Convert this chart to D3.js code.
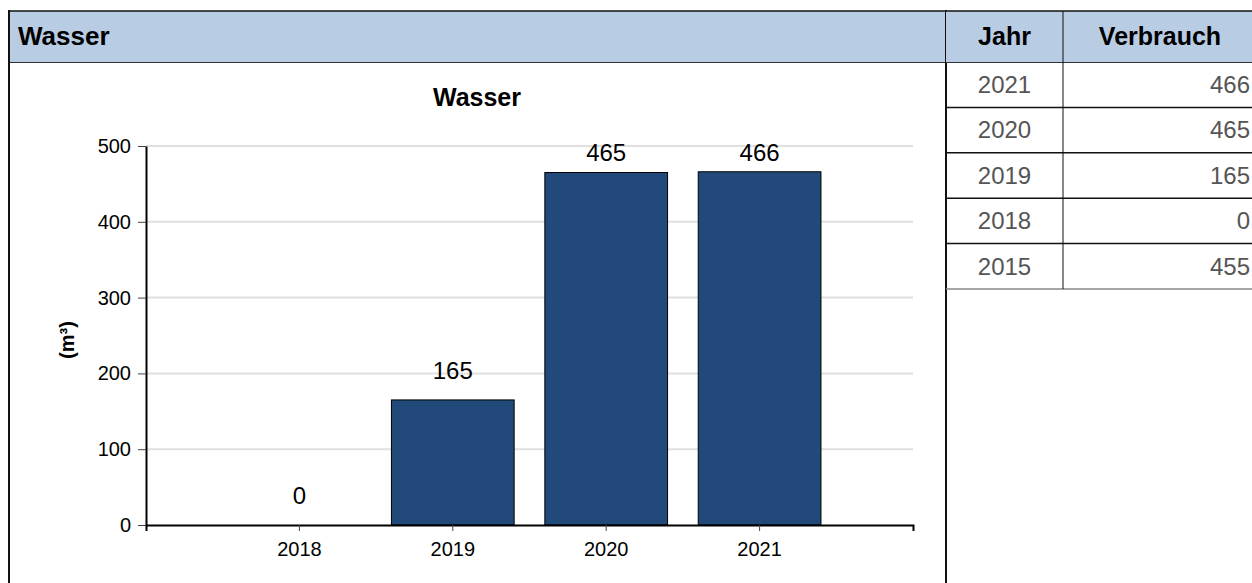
<!DOCTYPE html>
<html>
<head>
<meta charset="utf-8">
<script src="https://cdn.jsdelivr.net/npm/d3@7"></script>
<style>
  body { margin: 0; background: #fff; }
  svg { display: block; font-family: 'Liberation Sans', Arial, sans-serif; }
</style>
</head>
<body>
<div id="chart"></div>
<script>
// chart data
var years = ['2018', '2019', '2020', '2021']
var values = [0, 165, 465, 466]
var yTicks = [0, 100, 200, 300, 400, 500]

// table data
var tableYears = ['2021', '2020', '2019', '2018', '2015']
var tableValues = [466, 465, 165, 0, 455]

var W = 1252
var H = 583
var headerFill = '#b8cce4'

var svg = d3
  .select('#chart')
  .append('svg')
  .attr('width', W)
  .attr('height', H)

// left panel: header band + border
svg.append('rect')
  .attr('x', 9).attr('y', 11).attr('width', 937).attr('height', 51)
  .attr('fill', headerFill)
svg.append('line')
  .attr('x1', 9).attr('x2', 946).attr('y1', 62.5).attr('y2', 62.5)
  .attr('stroke', '#333').attr('stroke-width', 1)
svg.append('line')
  .attr('x1', 8).attr('x2', 946).attr('y1', 11).attr('y2', 11)
  .attr('stroke', '#111').attr('stroke-width', 1.5)
svg.append('line')
  .attr('x1', 9).attr('x2', 9).attr('y1', 10).attr('y2', H)
  .attr('stroke', '#111').attr('stroke-width', 2)
svg.append('line')
  .attr('x1', 946).attr('x2', 946).attr('y1', 10).attr('y2', H)
  .attr('stroke', '#111').attr('stroke-width', 2)

svg.append('text')
  .attr('x', 18).attr('y', 45)
  .attr('font-size', 26).attr('font-weight', 'bold')
  .text('Wasser')

// chart
var plot = { left: 146, right: 913, top: 146, bottom: 525 }

var xScale = d3.scaleBand()
  .domain(years)
  .range([plot.left, plot.right])
  .paddingInner(0.2)
  .paddingOuter(0.6)

var yScale = d3.scaleLinear()
  .domain([0, 500])
  .range([plot.bottom, plot.top])

svg.append('text')
  .attr('x', 477).attr('y', 106)
  .attr('text-anchor', 'middle')
  .attr('font-size', 25).attr('font-weight', 'bold')
  .text('Wasser')

svg.append('text')
  .attr('transform', 'translate(74,340) rotate(-90)')
  .attr('text-anchor', 'middle')
  .attr('font-size', 20).attr('font-weight', 'bold')
  .text('(m³)')

// grid lines
svg.append('g')
  .selectAll('line')
  .data(yTicks.filter(d => d > 0))
  .enter()
  .append('line')
  .attr('x1', plot.left)
  .attr('x2', plot.right)
  .attr('y1', d => yScale(d))
  .attr('y2', d => yScale(d))
  .attr('stroke', '#e0e0e0')
  .attr('stroke-width', 2)

// bars
svg.append('g')
  .selectAll('rect')
  .data(values)
  .enter()
  .append('rect')
  .attr('x', (d, i) => xScale(years[i]))
  .attr('width', xScale.bandwidth())
  .attr('y', d => yScale(d))
  .attr('height', d => yScale(0) - yScale(d))
  .attr('fill', '#214a7b')
  .attr('stroke', '#000')
  .attr('stroke-width', 1)

// value labels (kept inside plot area)
svg.append('g')
  .selectAll('text')
  .data(values)
  .enter()
  .append('text')
  .attr('x', (d, i) => xScale(years[i]) + xScale.bandwidth() / 2)
  .attr('y', d => Math.max(yScale(d) - 21, plot.top + 15))
  .attr('text-anchor', 'middle')
  .attr('font-size', 24)
  .attr('fill', '#000')
  .text(d => d)

// axes
var yAxis = d3.axisLeft(yScale).tickValues(yTicks).tickSize(8).tickSizeOuter(0).tickPadding(7)
var yG = svg.append('g')
  .attr('transform', 'translate(' + plot.left + ',0)')
  .call(yAxis)
yG.selectAll('text').attr('font-size', 20).attr('fill', '#000').attr('font-family', 'Liberation Sans, Arial, sans-serif')
yG.selectAll('.tick line').attr('stroke', '#444')
yG.select('.domain').attr('stroke', '#000').attr('stroke-width', 2)

var xAxis = d3.axisBottom(xScale).tickSize(6).tickSizeOuter(6).tickPadding(11)
var xG = svg.append('g')
  .attr('transform', 'translate(0,' + plot.bottom + ')')
  .call(xAxis)
xG.selectAll('text').attr('font-size', 20).attr('fill', '#000').attr('font-family', 'Liberation Sans, Arial, sans-serif')
xG.selectAll('.tick line').attr('stroke', '#444')
xG.select('.domain').attr('stroke', '#000').attr('stroke-width', 2)

// table on the right
var col1 = 946
var col2 = 1063
var rowH = 45.4
var headTop = 11
var headBottom = 62

svg.append('rect')
  .attr('x', col1).attr('y', headTop).attr('width', W - col1).attr('height', headBottom - headTop)
  .attr('fill', headerFill)
svg.append('line')
  .attr('x1', col1).attr('x2', W).attr('y1', 11).attr('y2', 11)
  .attr('stroke', '#111').attr('stroke-width', 1.5)
svg.append('line')
  .attr('x1', col1).attr('x2', W).attr('y1', 62.5).attr('y2', 62.5)
  .attr('stroke', '#333').attr('stroke-width', 1)

svg.append('text')
  .attr('x', (col1 + col2) / 2).attr('y', 45)
  .attr('text-anchor', 'middle')
  .attr('font-size', 25).attr('font-weight', 'bold')
  .text('Jahr')
svg.append('text')
  .attr('x', 1160).attr('y', 45)
  .attr('text-anchor', 'middle')
  .attr('font-size', 25).attr('font-weight', 'bold')
  .text('Verbrauch')

var rows = svg.append('g')
  .selectAll('g')
  .data(tableYears)
  .enter()
  .append('g')
  .attr('transform', (d, i) => 'translate(0,' + (headBottom + i * rowH) + ')')

rows.append('line')
  .attr('x1', col1).attr('x2', W)
  .attr('y1', rowH).attr('y2', rowH)
  .attr('stroke', (d, i) => i === tableYears.length - 1 ? '#888' : '#111')
  .attr('stroke-width', 1.5)

rows.append('text')
  .attr('x', (col1 + col2) / 2)
  .attr('y', 31)
  .attr('text-anchor', 'middle')
  .attr('font-size', 24)
  .attr('fill', '#555')
  .text(d => d)

rows.append('text')
  .attr('x', 1250)
  .attr('y', 31)
  .attr('text-anchor', 'end')
  .attr('font-size', 24)
  .attr('fill', '#555')
  .text((d, i) => tableValues[i])

svg.append('line')
  .attr('x1', col2).attr('x2', col2)
  .attr('y1', headTop).attr('y2', headBottom + tableYears.length * rowH)
  .attr('stroke', '#111').attr('stroke-width', 1)
</script>
</body>
</html>
